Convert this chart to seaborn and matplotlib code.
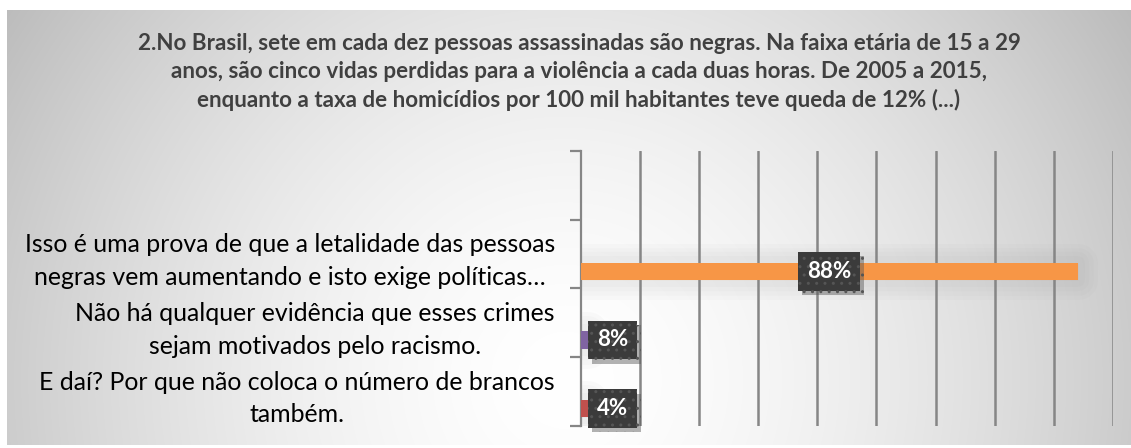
import numpy as np
import pandas as pd
import matplotlib
matplotlib.use("Agg")
import matplotlib.pyplot as plt
import matplotlib.patheffects as pe
import seaborn as sns

# ---------------- data ----------------
title = ("2.No Brasil, sete em cada dez pessoas assassinadas são negras. Na faixa etária de 15 a 29\n"
         "anos, são cinco vidas perdidas para a violência a cada duas horas. De 2005 a 2015,\n"
         "enquanto a taxa de homicídios por 100 mil habitantes teve queda de 12% (...)")
categories = [
    "Isso é uma prova de que a letalidade das pessoas\nnegras vem aumentando e isto exige políticas…",
    "Não há qualquer evidência que esses crimes\nsejam motivados pelo racismo.",
    "E daí? Por que não coloca o número de brancos\ntambém.",
]
bar_lengths = [84.0, 1.3, 1.3]          # bar length as drawn on the axis
value_labels = ["88%", "8%", "4%"]       # data labels shown on the bars
bar_colors = ["#F79646", "#8064A2", "#C0504D"]
series_levels = ["s1", "s2", "s3"]
series = ["s3", "s3", "s3"]

df = pd.DataFrame({"categoria": categories, "valor": bar_lengths, "serie": series})

# ---------------- figure ----------------
sns.set_theme(style="white")
plt.rcParams["font.family"] = ["Lato", "DejaVu Sans"]

W, H = 1131, 448
fig = plt.figure(figsize=(W / 100, H / 100), dpi=100)
fig.patch.set_facecolor("white")

# radial gradient background
bg = fig.add_axes([7 / W, 3 / H, 1 - 7 / W, (445 - 10) / H], zorder=-5)
yy, xx = np.mgrid[10:445, 7:W]
r = np.sqrt(((xx - 565) / 600.0) ** 2 + ((yy - 380) / 600.0) ** 2)
val = np.clip(1 - 0.22 * r ** 1.6, 0, 1)
img = np.dstack([val, val, val])
bg.imshow(img, aspect="auto", extent=[0, 1, 0, 1], interpolation="bilinear")
bg.set_xlim(0, 1)
bg.set_ylim(0, 1)
bg.axis("off")

x0, x1, yt, yb = 580.5, 1113.0, 150.7, 426.0
ax = fig.add_axes([x0 / W, 1 - yb / H, (x1 - x0) / W, (yb - yt) / H])
ax.set_facecolor("none")

order = [""] + categories
sns.barplot(data=df, y="categoria", x="valor", hue="serie", hue_order=series_levels,
            order=order, orient="h", width=0.75, dodge=True, legend=False,
            ax=ax, saturation=1, zorder=3)

bars = [p for p in ax.patches if p.get_width() > 0]
glow = [pe.Stroke(linewidth=lw, foreground="#8a8a8a", alpha=0.035, joinstyle="round")
        for lw in (28, 22, 16, 10)]
for p, c in zip(bars, bar_colors):
    p.set_facecolor(c)
    p.set_edgecolor("none")
    p.set_path_effects(glow + [pe.Normal()])

ax.set_xlim(0, 90)
ax.set_ylim(3.5, -0.5)
ax.set_xticks(np.arange(10, 91, 10))
ax.set_xticklabels([])
ax.tick_params(axis="x", length=0)
ax.grid(axis="x", color="#868686", lw=1.8, zorder=0)
ax.grid(axis="y", visible=False)
ax.set_axisbelow(True)
ax.set_xlabel("")
ax.set_ylabel("")

for s in ["top", "right", "bottom"]:
    ax.spines[s].set_visible(False)
ax.spines["left"].set_color("#868686")
ax.spines["left"].set_linewidth(1.6)

ax.set_yticks(range(len(order)))
ax.set_yticklabels(order)
ax.tick_params(axis="y", which="major", length=0, pad=18.4, labelsize=17.9, labelcolor="#000000")
for t in ax.get_yticklabels():
    t.set_multialignment("center")
    t.set_linespacing(1.52)
ax.set_yticks(np.arange(-0.5, 3.6, 1), minor=True)
ax.tick_params(axis="y", which="minor", length=8, width=1.6, color="#868686", direction="out", left=True)

# data labels
for p, lab, v in zip(bars, value_labels, bar_lengths):
    yc = p.get_y() + p.get_height() / 2
    xc = max(v / 2, 5.4)
    t = ax.text(xc, yc, lab, ha="center", va="center", color="white", fontsize=16,
                fontweight="bold", zorder=6,
                bbox=dict(boxstyle="square,pad=0.4", fc="#3b3b3b", ec="#555555",
                          hatch="..", lw=0))
    t.get_bbox_patch().set_path_effects([pe.withSimplePatchShadow(offset=(3, -3), shadow_rgbFace="#555555", alpha=0.45)])

fig.text(579 / W, 1 - 72 / H, title, ha="center", va="center", fontsize=16.1,
         fontweight="bold", color="#404040", linespacing=1.38)

fig.savefig("out.png", dpi=100)
